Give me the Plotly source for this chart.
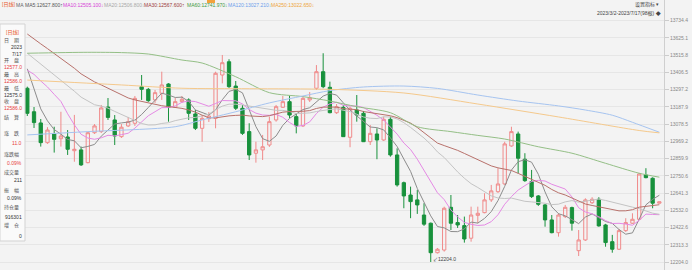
import pandas as pd
import plotly.graph_objects as go

# ---------------- data ----------------
# closes before the first visible candle (hidden behind the info panel), used only for the MAs
hist_close = [13950, 13980, 13940, 13900, 13920, 13880, 13860, 13890, 13840, 13780,
              13760, 13720, 13700, 13680, 13650, 13620, 13600, 13570, 13540, 13520,
              13350, 13380, 13420, 13450, 13455, 13700, 13620, 13420, 13260]

open_ = [13306, 13157, 13086, 12961, 13016, 12986, 12997, 12910, 12915, 12834,
         13024, 13031, 13187, 13105, 12999, 13067, 13084, 13316, 13299, 13232,
         13274, 13333, 13185, 13221, 13232, 13143, 13052, 13113, 13115, 13390,
         13474, 13320, 13179, 13031, 12894, 12915, 12946, 13105, 13185, 13221,
         13126, 13067, 13232, 13306, 13411, 13312, 13151, 13185, 12995, 13168,
         13147, 12967, 13016, 12978, 13109, 12883, 12707, 12629, 12598, 12502,
         12450, 12263, 12280, 12551, 12454, 12435, 12355, 12500, 12517, 12598,
         12650, 12699, 12940, 13016, 12856, 12714, 12623, 12566, 12471, 12390,
         12492, 12549, 12276, 12344, 12580, 12602, 12439, 12333, 12285, 12403,
         12450, 12475, 12756, 12735, 12577]
high = [13316, 13187, 13111, 13059, 13062, 13157, 13041, 13137, 12936, 13030,
        13079, 13200, 13244, 13136, 13079, 13124, 13257, 13390, 13308, 13295,
        13411, 13338, 13244, 13257, 13242, 13168, 13136, 13155, 13411, 13517,
        13490, 13352, 13200, 13084, 12967, 13010, 13126, 13200, 13257, 13257,
        13147, 13257, 13282, 13453, 13528, 13348, 13206, 13200, 13189, 13263,
        13162, 13073, 13052, 13126, 13126, 12925, 12714, 12682, 12661, 12577,
        12454, 12293, 12555, 12629, 12502, 12492, 12555, 12555, 12640, 12693,
        12799, 12967, 13062, 13031, 12894, 12788, 12629, 12572, 12502, 12513,
        12566, 12555, 12407, 12608, 12615, 12615, 12446, 12376, 12414, 12482,
        12513, 12769, 12799, 12741, 12586]
low = [13130, 13054, 12936, 12953, 12898, 12936, 12883, 12840, 12813, 12830,
       13016, 13022, 13105, 12946, 12991, 13060, 13067, 13232, 13220, 13213,
       13232, 13094, 13181, 13213, 13105, 13041, 12967, 13092, 13052, 13337,
       13308, 13168, 13010, 12851, 12834, 12851, 12934, 13094, 13181, 13117,
       13020, 13060, 13219, 13295, 13306, 13147, 13143, 12997, 12932, 13094,
       12965, 12946, 12856, 12972, 12872, 12682, 12545, 12482, 12509, 12433,
       12204, 12258, 12270, 12407, 12420, 12327, 12333, 12450, 12513, 12585,
       12642, 12693, 12935, 12767, 12712, 12610, 12560, 12428, 12386, 12365,
       12483, 12403, 12242, 12338, 12572, 12428, 12301, 12263, 12280, 12395,
       12446, 12471, 12735, 12545, 12575]
close = [13147, 13088, 12961, 13041, 12982, 13003, 12919, 12919, 12820, 13024,
         13067, 13181, 13121, 13003, 13059, 13094, 13242, 13299, 13227, 13278,
         13327, 13185, 13221, 13236, 13147, 13052, 13115, 13130, 13401, 13468,
         13316, 13179, 13020, 12883, 12915, 12935, 13094, 13189, 13221, 13136,
         13067, 13242, 13246, 13411, 13316, 13151, 13189, 12999, 13179, 13136,
         12967, 13020, 12978, 13109, 12883, 12693, 12623, 12587, 12566, 12444,
         12263, 12285, 12545, 12450, 12439, 12350, 12502, 12513, 12598, 12655,
         12699, 12953, 13031, 12862, 12720, 12619, 12570, 12471, 12390, 12502,
         12551, 12450, 12344, 12598, 12602, 12433, 12327, 12285, 12403, 12454,
         12475, 12762, 12739, 12577, 12586]

# long moving averages at a set of candle indices
ma60_idx = [0, 9, 14, 18, 23, 26, 31, 36, 41, 45, 49, 54, 58, 63, 67, 71, 76, 81, 86, 91, 94]
ma60_val = [13528, 13534, 13532, 13523, 13485, 13466, 13379, 13278, 13253, 13225, 13189,
            13151, 13062, 13031, 13007, 12984, 12935, 12894, 12830, 12767, 12742]
ma120_idx = [0, 9, 22, 26, 31, 36, 41, 45, 50, 56, 61, 67, 73, 79, 83, 87, 90, 94]
ma120_val = [13010, 13031, 13062, 13105, 13157, 13213, 13257, 13291, 13314, 13320, 13305,
             13263, 13225, 13194, 13168, 13135, 13090, 13027]
ma250_idx = [0, 14, 23, 33, 45, 56, 67, 79, 91, 94]
ma250_val = [13358, 13327, 13306, 13303, 13299, 13276, 13206, 13124, 13038, 13023]

y_ticks = [12204.0, 12313.3, 12422.6, 12532.0, 12641.3, 12750.6, 12859.9, 12969.2,
           13078.5, 13187.9, 13297.2, 13406.5, 13515.8, 13625.1, 13734.4]

ma_names = ["MA5", "MA10", "MA20", "MA30", "MA60", "MA120", "MA250"]
ma_last = ["12627.800", "12505.100", "12506.800", "12567.600", "12741.970", "13027.210", "13022.650"]
ma_dir = ["↑", "↓", "↓", "↑", "↓", "↓", "↓"]
ma_periods = [5, 10, 20, 30]

low_label = "12204.0"
low_index = 60

info_labels = ["日　期", "开　盘", "最　高", "最　低", "收　盘", "结　算", "涨　跌",
               "涨跌幅", "成交量", "振　幅", "持仓量", "增　仓"]
info_values = ["2023\n7/17", "12577.0", "12586.0", "12575.0", "12586.0", "", "11.0",
               "0.09%", "211", "0.09%", "916301", "0"]
info_red = {"12577.0", "12586.0", "11.0", "0.09%"}
range_text = "2023/3/2-2023/7/17(98根)"

# ---------------- styles ----------------
W, H = 692, 270
ML, MR, MT, MB = 0, 28, 0, 0
PW, PH = W - ML - MR, H - MT - MB
BG = "#f3f3f3"
FONT = "Liberation Sans, Noto Sans CJK SC, sans-serif"
UP = "#f08a8a"
DOWN = "#18913c"
ma_line_colors = ["#8c8c8c", "#e58ae5", "#c4c4c4", "#b8716b", "#94bf86", "#a6c4f0", "#f5c98c"]
ma_text_colors = ["#555555", "#d640d6", "#a8a8a8", "#9b3b3b", "#3f9a3f", "#6d9eeb", "#eea33a"]

# pixel rows of the info panel (label row, value row)
label_y = [40, 60, 74, 88, 101.7, 117, 134, 154, 172.3, 190, 207.3, 225.7]
value_y = [47, 67, 81, 95, 108.3, 125, 142.5, 163.3, 180, 198.3, 216.7, 236]


def px(x):
    return (x - ML) / PW


def py(y):
    return 1 - (y - MT) / PH


n = len(close)
xs = list(range(n))

full = pd.Series(hist_close + close, dtype=float)
ma_short = [full.rolling(p).mean().iloc[len(hist_close):].tolist() for p in ma_periods]

fig = go.Figure()
fig.add_trace(go.Candlestick(
    x=xs, open=open_, high=high, low=low, close=close,
    increasing=dict(line=dict(color=UP, width=1), fillcolor="rgba(0,0,0,0)"),
    decreasing=dict(line=dict(color=DOWN, width=1), fillcolor=DOWN),
    whiskerwidth=0, showlegend=False, hoverinfo="skip"))

for vals, col in zip(ma_short, ma_line_colors[:4]):
    fig.add_trace(go.Scatter(x=xs, y=vals, mode="lines", line=dict(color=col, width=1),
                             showlegend=False, hoverinfo="skip"))
for ix, vals, col in [(ma60_idx, ma60_val, ma_line_colors[4]),
                      (ma120_idx, ma120_val, ma_line_colors[5]),
                      (ma250_idx, ma250_val, ma_line_colors[6])]:
    fig.add_trace(go.Scatter(x=ix, y=vals, mode="lines",
                             line=dict(color=col, width=1, shape="spline", smoothing=0.8),
                             showlegend=False, hoverinfo="skip"))

spacing = 6.724
x0 = -27.3 / spacing
x1 = x0 + PW / spacing
y_top = 13734.4 + 20.7 * 6.342
y_bot = y_top - H * 6.342

fig.update_layout(
    width=W, height=H, margin=dict(l=ML, r=MR, t=MT, b=MB, pad=0),
    paper_bgcolor=BG, plot_bgcolor=BG,
    font=dict(family=FONT, size=5, color="#666666"),
    xaxis=dict(range=[x0, x1], rangeslider=dict(visible=False), showticklabels=False,
               showgrid=False, zeroline=False, ticks="", fixedrange=True),
    yaxis=dict(side="right", range=[y_bot, y_top], tickvals=y_ticks,
               ticktext=[f"{v:.1f}" for v in y_ticks], ticks="outside", ticklen=4,
               tickcolor="#cccccc", showline=True, linecolor="#cfcfcf", linewidth=1,
               showgrid=True, gridcolor="#e6e6e6", gridwidth=1, zeroline=False,
               tickfont=dict(size=5, color="#888888", family=FONT), fixedrange=True),
)

ann = []


def add_text(text, x, y, color, size=5, xanchor="left"):
    ann.append(dict(text=text, x=px(x), y=py(y), xref="paper", yref="paper",
                    xanchor=xanchor, yanchor="middle", showarrow=False,
                    font=dict(size=size, color=color, family=FONT)))


# header legend
add_text("[日线]", 0, 5, "#e8541e")
add_text("MA", 14, 5, "#666666")
hx = [22.7, 61, 101.7, 141.7, 185, 226, 269]
for name, val, d, col, xx in zip(ma_names, ma_last, ma_dir, ma_text_colors, hx):
    add_text(f"{name}:{val}{d}", xx, 5, col)

# top right controls
add_text("设置指标 ▾", 661, 5, "#444444", xanchor="right")
add_text(range_text + " ◆", 663, 14, "#444444", xanchor="right")

# low marker
ann.append(dict(text="↙" + low_label, x=low_index, y=low[low_index], xref="x", yref="y",
                xanchor="left", yanchor="bottom", showarrow=False, xshift=0, yshift=-2,
                font=dict(size=5, color="#444444", family=FONT)))

# info panel + small tab marker at the top edge
shapes = [dict(type="rect", xref="paper", yref="paper", x0=px(0), x1=px(25),
               y0=py(241), y1=py(24), fillcolor="#fafafa", line=dict(color="#d3d3d3", width=1),
               layer="above"),
          dict(type="rect", xref="paper", yref="paper", x0=px(207), x1=px(215),
               y0=py(3), y1=py(0), fillcolor="#f2a23c", line=dict(width=0), layer="above")]
add_text("[日线]", 12.5, 32.5, "#e8541e", xanchor="center")
for lab, val, ly, vy in zip(info_labels, info_values, label_y, value_y):
    add_text(lab, 1.5, ly, "#555555")
    if "\n" in val:
        parts = val.split("\n")
        add_text(parts[0], 24, vy, "#333333", xanchor="right")
        add_text(parts[1], 24, vy + 6.5, "#333333", xanchor="right")
    elif val:
        col = "#e8413c" if (val in info_red and lab != "振　幅") else "#333333"
        add_text(val, 24, vy, col, xanchor="right")

fig.update_layout(annotations=ann, shapes=shapes)
fig.write_html("out.html")
